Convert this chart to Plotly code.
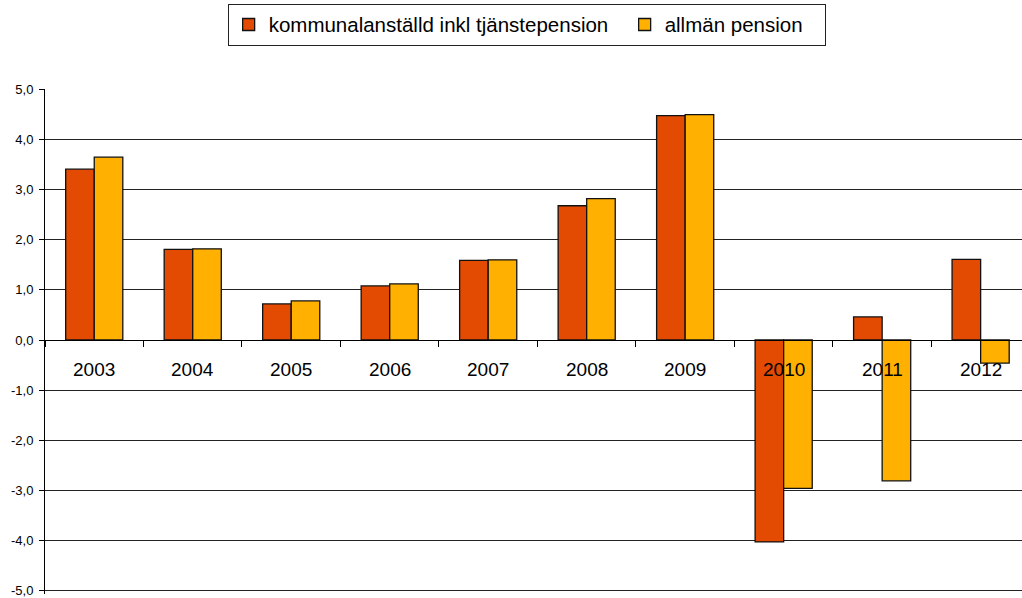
import plotly.graph_objects as go

years = ["2003", "2004", "2005", "2006", "2007", "2008", "2009", "2010", "2011", "2012"]
kommunal = [3.41, 1.81, 0.72, 1.08, 1.59, 2.68, 4.48, -4.03, 0.46, 1.61]
allman = [3.65, 1.82, 0.78, 1.12, 1.60, 2.82, 4.50, -2.96, -2.81, -0.46]
series_names = ["kommunalanställd inkl tjänstepension", "allmän pension"]
ytick_vals = [-5, -4, -3, -2, -1, 0, 1, 2, 3, 4, 5]
ytick_text = [f"{v:.1f}".replace(".", ",") for v in ytick_vals]

FONT = "Liberation Sans, Arial, sans-serif"

fig = go.Figure()
fig.add_trace(go.Bar(x=years, y=kommunal, name=series_names[0] + "\u00a0" * 2,
                     marker=dict(color="#E34A02", line=dict(color="#111", width=1.3))))
fig.add_trace(go.Bar(x=years, y=allman, name=series_names[1] + "\u00a0" * 3,
                     marker=dict(color="#FFB000", line=dict(color="#111", width=1.3))))

# year labels inside plot just under zero line
for i, yr in enumerate(years):
    fig.add_annotation(x=i, y=-0.58, xref="x", yref="y", text=yr, showarrow=False,
                       font=dict(size=19, color="#000", family=FONT), yanchor="middle")

fig.update_layout(
    width=1022, height=598,
    margin=dict(l=45, r=0, t=89, b=4),
    plot_bgcolor="white", paper_bgcolor="white",
    barmode="group", bargap=0.42, bargroupgap=0,
    font=dict(family=FONT, color="#000"),
    legend=dict(orientation="h", x=0.493, xanchor="center", y=1.169, yanchor="top",
                bordercolor="#222", borderwidth=1, font=dict(size=20.5, family=FONT),
                itemwidth=30, traceorder="normal", tracegroupgap=0),
    showlegend=True,
)
fig.update_xaxes(type="category", range=[-0.5, 9.42], anchor="free", position=0.503,
                 showline=True, linecolor="#000", linewidth=1,
                 ticks="outside", tickson="boundaries", ticklen=6, tickcolor="#000",
                 showticklabels=False, showgrid=False, zeroline=False)
fig.update_yaxes(range=[-5.07, 5.01], tickvals=ytick_vals, ticktext=ytick_text,
                 showline=True, linecolor="#000", linewidth=1,
                 ticks="outside", ticklen=5, tickcolor="#000",
                 showgrid=True, gridcolor="#222", gridwidth=1, automargin=False,
                 ticklabeloverflow="allow", ticklabelstandoff=3,
                 zeroline=False, tickfont=dict(size=13, family=FONT))

fig.write_html("out.html", config={"displayModeBar": False})

# remove default page margin so the figure sits at the window's top-left corner
with open("out.html", "r", encoding="utf-8") as f:
    html = f.read()
html = html.replace("<head>", "<head><style>html,body{margin:0;padding:0;overflow:hidden;}</style>", 1)
with open("out.html", "w", encoding="utf-8") as f:
    f.write(html)
